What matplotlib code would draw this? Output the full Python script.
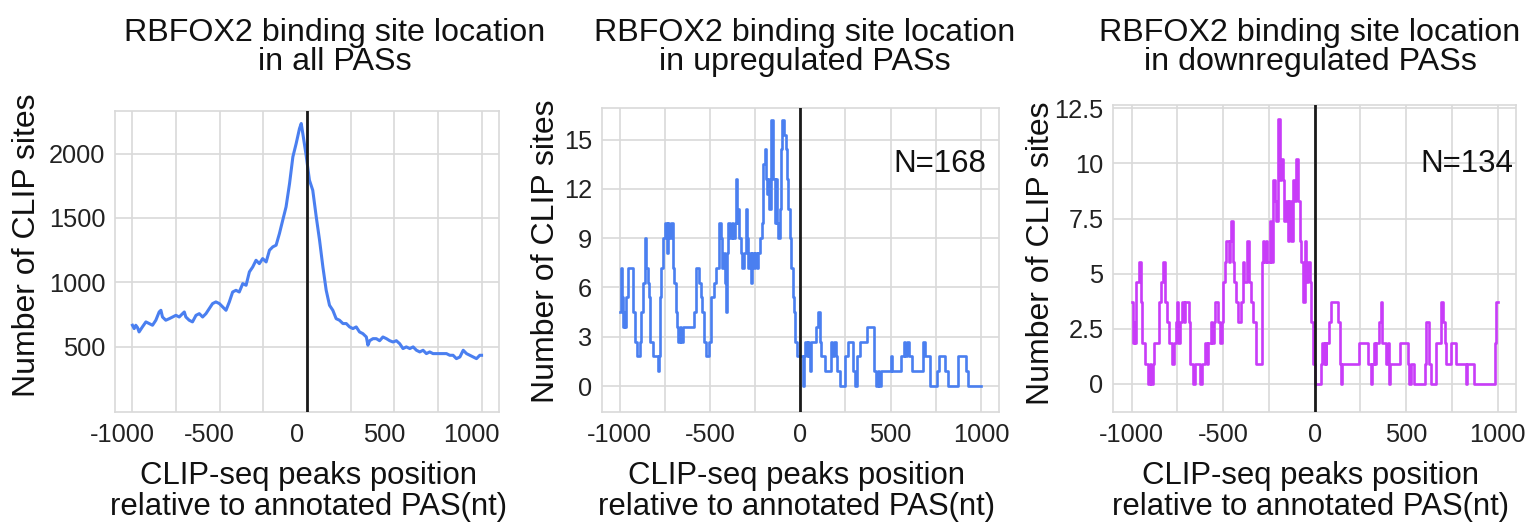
import matplotlib
matplotlib.use("Agg")
import matplotlib.pyplot as plt
import matplotlib.transforms as mtransforms

plt.rcParams['font.family'] = ['Liberation Sans', 'DejaVu Sans']
plt.rcParams['axes.unicode_minus'] = False

# all PASs (smooth profile)
all_x = [-1000, -990, -981, -971, -962, -943, -923, -904, -885, -866, -847, -837,
         -828, -809, -789, -770, -751, -732, -713, -703, -694, -675, -656, -636,
         -617, -598, -579, -560, -541, -522, -502, -483, -464, -445, -426, -407,
         -388, -368, -349, -330, -311, -292, -273, -254, -234, -215, -196, -177,
         -158, -139, -120, -100, -81, -62, -43, -33, -24, -5, 14, 33, 53, 72, 91,
         110, 129, 148, 167, 186, 206, 225, 244, 263, 282, 301, 320, 340, 349, 359,
         378, 397, 416, 435, 455, 474, 493, 512, 531, 550, 569, 589, 608, 627, 646,
         665, 684, 703, 722, 742, 761, 780, 799, 818, 837, 856, 876, 895, 914, 933,
         952, 971, 990, 1000]
all_y = [668, 642, 668, 650, 616, 655, 694, 681, 668, 707, 771, 784,
         732, 707, 719, 732, 745, 732, 758, 771, 732, 707, 694, 745,
         758, 732, 758, 797, 836, 849, 836, 810, 784, 849, 926, 939,
         926, 991, 978, 1082, 1120, 1172, 1146, 1185, 1159, 1250, 1276, 1289,
         1379, 1483, 1586, 1767, 1974, 2078, 2194, 2233, 2155, 1987, 1793, 1715, 1508, 1327, 1120,
         939, 823, 784, 719, 707, 681, 681, 655, 642, 655, 616, 603, 577, 513, 548,
         564, 564, 548, 577, 564, 548, 538, 548, 525, 487, 500, 487, 500, 474, 461,
         474, 448, 461, 448, 448, 448, 448, 448, 435, 435, 409, 422, 474, 448, 435,
         422, 409, 435, 435]

# upregulated PASs (step profile)
up_x = [-1000, -995, -990, -983, -978, -972, -965, -955, -925, -915, -905, -888,
        -882, -872, -862, -852, -845, -838, -830, -815, -788, -782, -778, -770,
        -762, -748, -740, -735, -725, -715, -705, -698, -690, -682, -675, -668,
        -660, -652, -590, -578, -562, -552, -545, -535, -525, -505, -492, -480,
        -465, -452, -440, -432, -425, -420, -412, -405, -398, -390, -380, -372,
        -362, -356, -352, -345, -338, -330, -322, -310, -300, -294, -288, -280,
        -272, -265, -258, -250, -240, -232, -225, -215, -205, -198, -192, -185,
        -178, -172, -165, -160, -150, -142, -136, -130, -122, -115, -108, -100,
        -88, -80, -72, -66, -58, -50, -42, -34, -28, -20,
        12, 20, 26, 35, 40, 50, 56, 60, 88, 95, 110, 117, 135, 168, 178, 185,
        195, 205, 222, 245, 262, 290, 300, 315, 328, 368, 410, 418, 428, 435,
        445, 500, 508, 555, 575, 582, 590, 600, 620, 680, 690, 718, 755, 765,
        800, 815, 875, 920, 930, 1000]
up_y = [4.5, 7.2, 5.4, 3.6, 4.5, 3.6, 5.4, 7.2, 4.5, 2.7, 1.8, 2.7,
        4.5, 6.3, 9.0, 7.2, 6.3, 5.4, 2.7, 1.8, 0.9, 1.8, 5.4, 7.2,
        9.0, 9.9, 8.1, 9.9, 9.0, 9.9, 7.2, 6.3, 4.5, 3.6, 2.7, 3.6,
        2.7, 3.6, 4.5, 7.2, 6.3, 5.4, 4.5, 2.7, 1.8, 2.7, 5.4, 6.3,
        7.2, 9.9, 9.0, 7.2, 8.1, 6.3, 4.5, 8.1, 9.9, 9.0, 9.9, 9.0,
        9.9, 12.6, 9.9, 10.8, 9.0, 8.1, 7.2, 8.1, 10.8, 9.0, 7.2, 8.1,
        6.3, 8.1, 7.2, 8.1, 7.2, 8.1, 9.0, 9.9, 13.5, 14.4, 12.6, 11.7,
        12.6, 10.8, 14.4, 16.2, 12.6, 9.9, 12.6, 9.9, 9.0, 10.8, 14.4, 16.2,
        15.3, 14.4, 12.6, 10.8, 9.0, 7.2, 5.4, 4.5, 2.7, 1.8,
        0, 1.8, 2.7, 1.8, 2.7, 1.8, 0.9, 2.7, 3.6, 4.5, 2.7, 1.8, 0.9, 2.7, 1.8, 2.7,
        1.8, 0.9, 0, 1.8, 2.7, 0.9, 0, 1.8, 2.7, 3.6, 0.9, 0, 0.9, 0,
        0.9, 1.8, 0.9, 1.8, 2.7, 1.8, 2.7, 1.8, 0.9, 2.7, 1.8, 0, 0.9, 1.8,
        0.9, 0, 1.8, 0.9, 0, 0]

# downregulated PASs (step profile)
down_x = [-1000, -995, -990, -985, -980, -975, -962, -950, -942, -928, -910, -900,
          -895, -885, -875, -850, -840, -828, -815, -808, -798, -780, -770, -760,
          -752, -746, -738, -725, -715, -708, -688, -682, -665, -655, -625, -618,
          -598, -588, -582, -568, -560, -552, -542, -528, -518, -508, -500, -490,
          -482, -468, -462, -455, -448, -438, -428, -418, -400, -392, -384, -372,
          -360, -350, -338, -318, -288, -280, -275, -265, -258, -245, -238, -228,
          -218, -210, -200, -192, -182, -175, -165, -155, -146, -138, -128, -118,
          -110, -100, -92, -82, -72, -62, -55, -46, -36, -28, -18, -8,
          3, 35, 42, 52, 56, 60, 64, 80, 90, 130, 137, 143, 152, 245, 292, 308,
          315, 322, 330, 335, 352, 362, 368, 392, 400, 405, 412, 465, 512, 518,
          528, 545, 605, 610, 625, 638, 665, 690, 700, 710, 718, 745, 770, 825,
          830, 872, 988, 993, 1000]
down_y = [3.7, 2.8, 1.85, 2.8, 1.85, 4.6, 5.55, 3.7, 1.85, 0.9, 0, 0.9,
          0, 0.9, 1.85, 3.7, 4.6, 5.55, 3.7, 2.8, 1.85, 0.9, 1.85, 2.8,
          3.7, 1.85, 2.8, 3.7, 2.8, 3.7, 2.8, 0.9, 0, 0.9, 0, 0.9,
          1.85, 0.9, 1.85, 2.8, 1.85, 2.8, 3.7, 2.8, 1.85, 2.8, 4.6, 5.55,
          6.5, 5.55, 6.5, 7.4, 5.55, 4.6, 3.7, 2.8, 3.7, 5.55, 4.6, 6.5,
          4.6, 3.7, 2.8, 0.9, 5.55, 6.5, 5.55, 6.5, 5.55, 7.4, 5.55, 9.25,
          8.3, 7.4, 12.0, 9.25, 10.2, 9.25, 7.4, 8.3, 6.5, 8.3, 6.5, 9.25,
          8.3, 10.2, 8.3, 6.5, 5.55, 3.7, 6.5, 4.6, 5.55, 4.6, 2.8, 0.9,
          0, 0.9, 1.85, 0.9, 1.85, 0.9, 1.85, 2.8, 3.7, 2.8, 0.9, 0, 0.9, 1.85, 0.9, 0,
          0.9, 1.85, 0.9, 1.85, 2.8, 3.7, 1.85, 0.9, 1.85, 0, 0.9, 1.85, 0.9, 0,
          0.9, 0, 0.9, 2.8, 0.9, 0, 1.85, 3.7, 2.8, 1.85, 0.9, 1.85, 0.9, 0,
          0.9, 0, 1.85, 3.7, 3.7]

up_yticks = [0, 3, 6, 9, 12, 15]
down_yticks = [0, 2.5, 5, 7.5, 10, 12.5]
down_yticklabels = ['0', '2.5', '5', '7.5', '10', '12.5']
all_yticks = [500, 1000, 1500, 2000]
x_major = [-1000, -500, 0, 500, 1000]
x_minor = [-750, -250, 250, 750]

titles = ['RBFOX2 binding site location\nin all PASs',
          'RBFOX2 binding site location\nin upregulated PASs',
          'RBFOX2 binding site location\nin downregulated PASs']
xlabel = 'CLIP-seq peaks position\nrelative to annotated PAS(nt)'
ylabel = 'Number of CLIP sites'

grid_c = '#d9d9d9'
blue = '#4a7ff0'
purple = '#c83cf8'

W, H = 1538, 529
fig = plt.figure(figsize=(W / 100, H / 100), dpi=100)


def px_axes(l, t, r, b):
    return fig.add_axes([l / W, 1 - b / H, (r - l) / W, (b - t) / H])


def style(ax, ylim, yticks):
    ax.set_xlim(-1100, 1100)
    ax.set_ylim(*ylim)
    ax.set_xticks(x_major)
    ax.set_xticks(x_minor, minor=True)
    ax.set_yticks(yticks)
    ax.grid(True, which='both', color=grid_c, lw=1.2)
    ax.set_axisbelow(True)
    for s in ax.spines.values():
        s.set_color(grid_c)
        s.set_linewidth(1.2)
    ax.tick_params(which='both', length=0, labelsize=18.3, colors='#222222')
    ax.tick_params(axis='x', pad=8)
    ax.tick_params(axis='y', pad=7)
    ax.axvline(0, color='#1a1a1a', lw=2, zorder=5)


ax1 = px_axes(115, 111, 499, 412)
ax1.plot(all_x, all_y, color=blue, lw=2.2)
style(ax1, (-5, 2330), all_yticks)
# first panel labels sit a bit left of their gridlines
for lab in ax1.get_xticklabels():
    lab.set_transform(lab.get_transform() +
                      mtransforms.ScaledTranslation(-0.10, 0, fig.dpi_scale_trans))

ax2 = px_axes(601.7, 108.3, 999, 411.7)
ax2.step(up_x, up_y, where='post', color=blue, lw=1.9)
style(ax2, (-1.56, 16.9), up_yticks)
ax2.text(0.967, 0.79, 'N=168', transform=ax2.transAxes, ha='right', va='baseline',
         fontsize=22.5, color='#111111')

ax3 = px_axes(1113.3, 105, 1516, 411.7)
ax3.step(down_x, down_y, where='post', color=purple, lw=1.9)
style(ax3, (-1.26, 12.65), down_yticks)
ax3.set_yticklabels(down_yticklabels)
ax3.text(0.9925, 0.7825, 'N=134', transform=ax3.transAxes, ha='right', va='baseline',
         fontsize=22.5, color='#111111')

# titles, axis labels (placed in pixels; y is the baseline of the last line)
title_cx = [335, 805, 1310]
xlabel_cx = [308, 797, 1310]
ylabel_pos = [(27, 245), (546, 251), (1041, 253)]
for i in range(3):
    fig.text(title_cx[i] / W, 1 - 70 / H, titles[i], ha='center', va='baseline',
             fontsize=23.2, linespacing=0.94, color='#111111',
             multialignment='center')
    fig.text(xlabel_cx[i] / W, 1 - 515 / H, xlabel, ha='center', va='baseline',
             fontsize=22.4, linespacing=1.04, color='#111111',
             multialignment='center')
    fig.text(ylabel_pos[i][0] / W, 1 - ylabel_pos[i][1] / H, ylabel, rotation=90,
             ha='center', va='center', fontsize=23, color='#111111')

fig.savefig('out.png', dpi=100)
